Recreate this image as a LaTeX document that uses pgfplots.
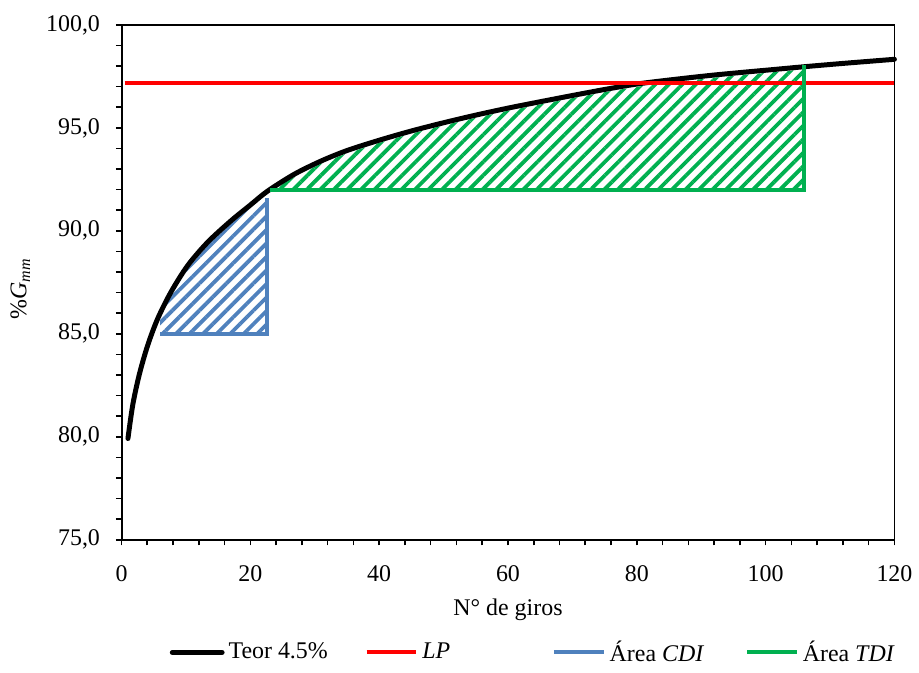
\documentclass[border=0pt]{standalone}
\usepackage{fontspec}
\setmainfont{Liberation Serif}
\usepackage{pgfplots}
\pgfplotsset{compat=1.18}
\usetikzlibrary{patterns.meta}
\definecolor{exblue}{HTML}{4F81BD}
\definecolor{exgreen}{HTML}{00B050}
\definecolor{exred}{HTML}{FF0000}
\begin{document}
\begin{tikzpicture}[font=\fontsize{12}{14}\selectfont]
\begin{axis}[
  scale only axis, width=388pt, height=258.5pt,
  xmin=0, xmax=120, ymin=75, ymax=100,
  xtick={0,20,...,120}, ytick={75,80,...,100},
  minor x tick num=4, minor y tick num=4,
  tick pos=left, tick align=outside,
  major tick length=2.8pt, minor tick length=2.8pt,
  tick style={black, line width=0.8pt},
  axis line style={line width=0.6pt},
  clip=false,
  scaled ticks=false,
  /pgf/number format/assume math mode=true,
  yticklabel style={xshift=-4.5pt, /pgf/number format/.cd, fixed, fixed zerofill, precision=1, use comma, assume math mode=true},
  xticklabel style={yshift=-6.5pt, /pgf/number format/.cd, fixed, precision=0, assume math mode=true},
  xlabel={N° de giros},
  ylabel={\%\textit{G}\textsubscript{\textit{mm}}},
  xlabel style={at={(rel axis cs:0.5,-0.147)}, anchor=base},
  ylabel style={at={(rel axis cs:-0.131,0.487)}, anchor=center},
  legend columns=4,
  legend style={draw=none, fill=none, at={(0.534,-0.2186)}, anchor=center,
    font=\fontsize{12}{14}\selectfont,
    /tikz/column 2/.style={column sep=16.5pt},
    /tikz/column 4/.style={column sep=49pt},
    /tikz/column 6/.style={column sep=18.5pt}},
  legend image code/.code={\draw[#1] (0pt,0pt) -- (25pt,0pt);},
]
% hatched areas
\addplot[draw=none, pattern={Lines[angle=45,distance=4.8pt,line width=1.9pt]}, pattern color=exblue, forget plot]
  coordinates {(6,85) (6,85.85) (7.7,86.85) (10.3,88.15) (13.35,89.3) (17,90.35) (20,91.12) (22.6,91.7) (22.6,85)};
\addplot[draw=none, pattern={Lines[angle=45,distance=4.8pt,line width=1.9pt]}, pattern color=exgreen, forget plot]
  coordinates {(23,92) (26.76,92.6) (30.9,93.25) (35,93.77) (40,94.27) (45,94.72) (50,95.12) (55,95.49) (60,95.83) (65,96.14) (70.8,96.49) (76,96.79) (81.2,97.05) (91.5,97.42) (101.8,97.72) (105.9,97.84) (105.9,92)};
% curve
\addplot[black, line width=2.5pt, smooth, line cap=round]
  coordinates {(1,79.92) (1.75,81.56) (2.78,83.05) (4.07,84.45) (5.62,85.74) (7.68,87.03) (10.26,88.31) (13.35,89.44) (16.96,90.48) (20.06,91.27) (22.63,91.92) (26.76,92.74) (30.9,93.38) (35,93.9) (40,94.4) (45,94.85) (50,95.25) (55,95.62) (60,95.96) (65,96.27) (70.8,96.62) (76,96.92) (81.2,97.18) (91.5,97.55) (101.8,97.85) (106,97.97) (112,98.13) (120,98.33)};
\addlegendentry{Teor 4.5\%}
\addplot[exred, line width=2pt] coordinates {(0.5,97.2) (120,97.2)};
\addlegendentry{\textit{LP}}
\addplot[exblue, line width=2pt] coordinates {(6,85) (22.6,85) (22.6,91.6)};
\addlegendentry{Área \textit{CDI}}
\addplot[exgreen, line width=2pt] coordinates {(23,92) (106,92) (106,98.07)};
\addlegendentry{Área \textit{TDI}}
\end{axis}
\draw[line width=1pt] (current axis.north west) -- (current axis.south west) -- (current axis.south east);
\path ([shift={(-61pt,-62pt)}]current axis.south west) rectangle ([shift={(10.5pt,12.5pt)}]current axis.north east);
\end{tikzpicture}
\end{document}
